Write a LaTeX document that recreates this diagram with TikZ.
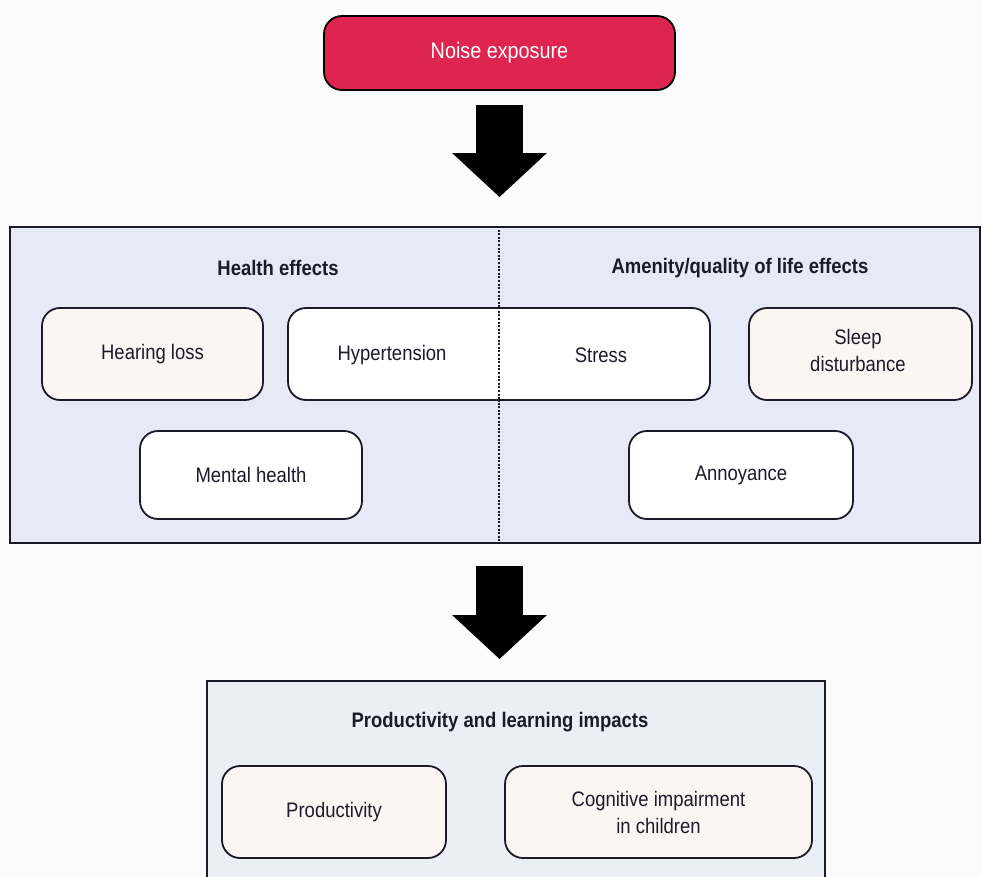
\documentclass[tikz,border=0pt]{standalone}
\usepackage{fontspec}
\setmainfont{Liberation Sans}[FakeStretch=0.88]
\usetikzlibrary{arrows.meta}
\definecolor{noisered}{RGB}{224,36,80}
\definecolor{panelfill}{RGB}{231,233,246}
\definecolor{panelfilltwo}{RGB}{236,238,246}
\definecolor{itemfill}{RGB}{251,246,244}
\definecolor{inkdark}{RGB}{28,26,40}
\definecolor{pagebg}{RGB}{251,251,251}
\begin{document}
\begin{tikzpicture}[x=1pt,y=-1pt,
  every node/.style={font=\fontsize{21}{27}\selectfont, text=inkdark},
  panel/.style={draw=inkdark, line width=1.8pt, fill=panelfill, inner sep=0pt},
  itembox/.style={draw=inkdark, line width=1.8pt, rounded corners=18pt, fill=itemfill, inner sep=0pt, align=center},
  plain/.style={inner sep=0pt, align=center},
  title/.style={inner sep=0pt, font=\fontsize{21}{26}\selectfont\bfseries},
  divider/.style={draw=inkdark, line width=2pt, dash pattern=on 2pt off 1.6pt},
  bigarrow/.style={line width=47pt, draw=black, -{Triangle[width=92pt,length=44pt]}}
]
\useasboundingbox (0,0) rectangle (982,877);
\fill[pagebg] (0,0) rectangle (982,877);
\clip (0,0) rectangle (982,877);

% top node
\node[draw=black, line width=1.8pt, rounded corners=18pt, fill=noisered, minimum width=351pt, minimum height=74pt, inner sep=0pt, text=white, font=\fontsize{22.5}{27}\selectfont] (noise) at (499.5,53) {Noise exposure};

% panel 1
\node[panel, minimum width=970pt, minimum height=316pt] (effects) at (495,385) {};
\draw[divider] (effects.north -| 499,0) coordinate (divtop) -- (effects.south -| 499,0) coordinate (divbot);
\node[title] (healthtitle) at (278,268) {Health effects};
\node[title] (amenitytitle) at (740,268) {Amenity/quality of life effects};

\node[itembox, minimum width=221pt, minimum height=92pt] (hearing) at (152.5,354) {Hearing loss};
\node[itembox, minimum width=422pt, minimum height=92pt, fill=white] (hyperstress) at (499,354) {};
\draw[divider] (hyperstress.north -| 499,0) -- (hyperstress.south -| 499,0);
\node[plain] (hyper) at (392,355) {Hypertension};
\node[plain] (stress) at (601,355) {Stress};
\node[itembox, minimum width=223pt, minimum height=92pt] (sleep) at (860.5,354) {};
\node[plain] (sleeptext) at (858,350) {Sleep\\disturbance};
\node[itembox, minimum width=222pt, minimum height=88pt, fill=white] (mental) at (251,475) {Mental health};
\node[itembox, minimum width=224pt, minimum height=88pt, fill=white] (annoy) at (741,475) {Annoyance};

% panel 2
\node[panel, fill=panelfilltwo, minimum width=618pt, minimum height=230pt] (impacts) at (516,796) {};
\node[title] (impacttitle) at (500,722) {Productivity and learning impacts};
\node[itembox, minimum width=224pt, minimum height=92pt] (prod) at (334,812) {Productivity};
\node[itembox, minimum width=307pt, minimum height=92pt] (cog) at (658.5,812) {Cognitive impairment\\in children};

% big arrows
\draw[bigarrow, shorten <=14pt, shorten >=29pt] (noise.south) -- (noise.south |- effects.north);
\draw[bigarrow, shorten <=22pt, shorten >=21pt] (effects.south -| noise.south) -- (noise.south |- impacts.north);
\end{tikzpicture}
\end{document}
